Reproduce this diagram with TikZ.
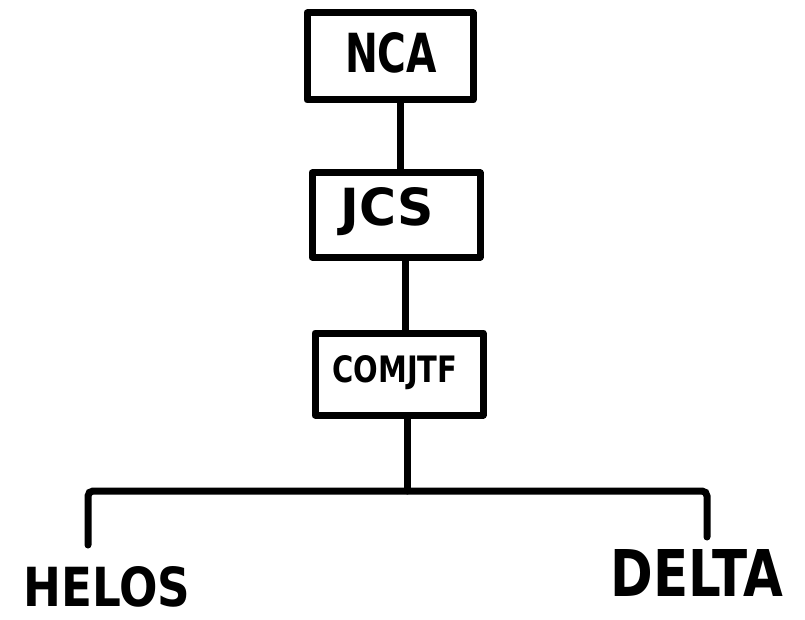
\documentclass[tikz,border=0pt]{standalone}
\usepackage{fontspec}
\usepackage{graphicx}
\setmainfont{DejaVu Sans}
\tikzset{
  orgbox/.style={draw, line width=7pt, rectangle, inner sep=0pt, line join=round},
  conn/.style={line width=7pt, line cap=round},
  lbl/.style={inner sep=0pt, font=\bfseries}
}
\begin{document}
\begin{tikzpicture}[x=1pt,y=-1pt]
\useasboundingbox (0,0) rectangle (805,620);
% boxes
\node[orgbox, minimum width=166pt, minimum height=87pt] (NCA) at (390,56.5) {};
\node[lbl] (NCAt) at (391,53) {\resizebox{92pt}{40pt}{NCA}};
\node[orgbox, minimum width=168pt, minimum height=84pt] (JCS) at (396,215) {};
\node[lbl] (JCSt) at (387,212) {\resizebox{93pt}{38pt}{JCS}};
\node[orgbox, minimum width=168pt, minimum height=82pt] (COMJTF) at (399,374) {};
\node[lbl] (COMJTFt) at (395,373) {\resizebox{125pt}{27pt}{COMJTF}};
% leaf labels
\node[lbl] (HELOS) at (107,587) {\resizebox{167pt}{40pt}{HELOS}};
\node[lbl] (DELTA) at (697,573) {\resizebox{173pt}{47pt}{DELTA}};
% connectors
\draw[conn] ([xshift=10pt]NCA.south) -- ([xshift=10pt]NCA.south |- JCS.north);
\draw[conn] ([xshift=9pt]JCS.south) -- ([xshift=9pt]JCS.south |- COMJTF.north);
\coordinate (bus) at (407,491);
\coordinate (lcorner) at (88,491);
\coordinate (rcorner) at (707,491);
\coordinate (lend) at (88,545);
\coordinate (rend) at (707,537);
\draw[conn] (COMJTF.south -| bus) -- (bus);
\draw[conn, rounded corners=5pt] (lend) -- (lcorner) -- (rcorner) -- (rend);
\end{tikzpicture}
\end{document}
